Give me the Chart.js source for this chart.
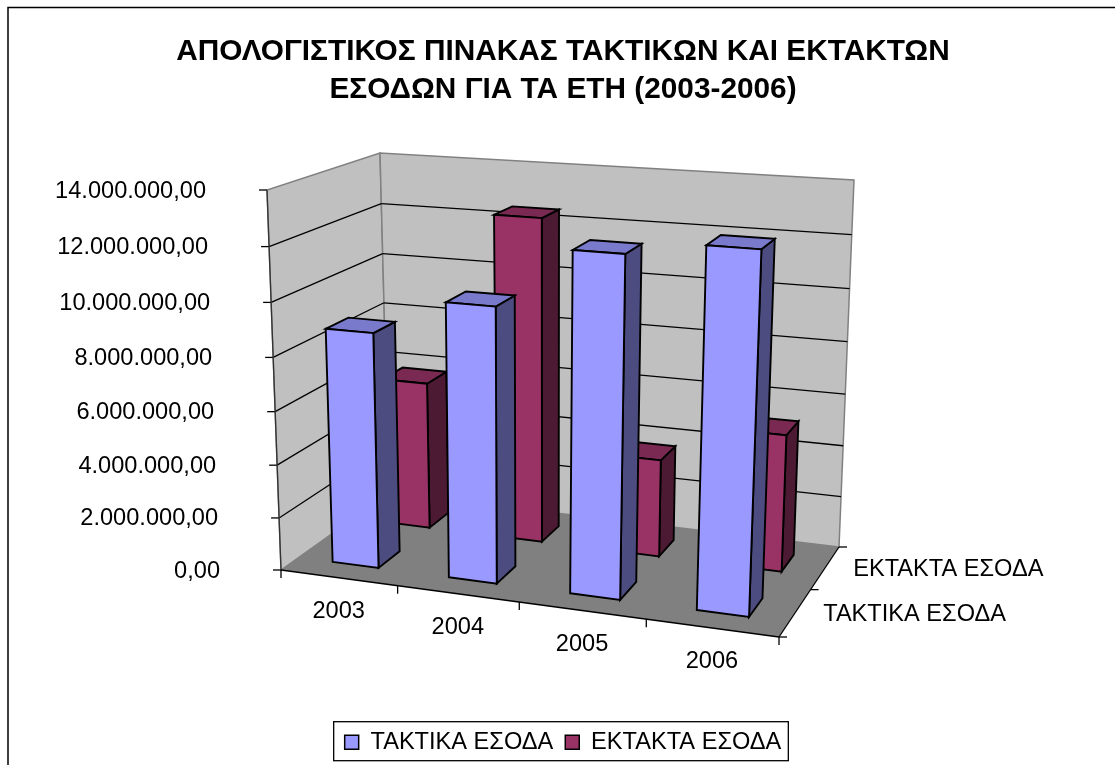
<!DOCTYPE html>
<html>
<head>
<meta charset="utf-8">
<script src="https://cdnjs.cloudflare.com/ajax/libs/Chart.js/4.4.1/chart.umd.js"></script>
<style>
  html, body { margin: 0; padding: 0; background: #fff; overflow: hidden; }
  canvas { display: block; }
</style>
</head>
<body>
<canvas id="chart" width="1115" height="765"></canvas>
<script>
const years = ["2003", "2004", "2005", "2006"];
const regular = [8850000, 10200000, 12400000, 12900000];
const extra = [5800000, 12500000, 3750000, 5200000];
const regularName = "ΤΑΚΤΙΚΑ ΕΣΟΔΑ";
const extraName = "ΕΚΤΑΚΤΑ ΕΣΟΔΑ";
const titleLines = ["ΑΠΟΛΟΓΙΣΤΙΚΟΣ ΠΙΝΑΚΑΣ ΤΑΚΤΙΚΩΝ ΚΑΙ ΕΚΤΑΚΤΩΝ", "ΕΣΟΔΩΝ ΓΙΑ ΤΑ ΕΤΗ (2003-2006)"];

const FONT = "'Liberation Sans', Arial, sans-serif";
const LABEL_SIZE = 23.6;

// corners of the 3d box on screen: first letter front/back, second left/right, third bottom/top
const box = {
  flb: [281, 570], flt: [267, 190],
  frb: [779, 637], frt: [795, 227],
  blb: [389, 493], blt: [380, 153],
  brb: [839, 547], brt: [854, 180]
};
// perspective squeeze along each axis
const warp = (t, k) => t / (t + k * (1 - t));
const lerp = (a, b, t) => [a[0] + (b[0] - a[0]) * t, a[1] + (b[1] - a[1]) * t];

function project(u, v, z) {
  u = warp(u, 1.09); v = warp(v, 1.05); z = warp(z, 0.9);
  const front = lerp(lerp(box.flb, box.frb, u), lerp(box.flt, box.frt, u), v);
  const back = lerp(lerp(box.blb, box.brb, u), lerp(box.blt, box.brt, u), v);
  return lerp(front, back, z);
}

function poly(ctx, pts, fill, stroke, width) {
  ctx.beginPath();
  pts.forEach((p, i) => i ? ctx.lineTo(p[0], p[1]) : ctx.moveTo(p[0], p[1]));
  ctx.closePath();
  if (fill) { ctx.fillStyle = fill; ctx.fill(); }
  if (stroke) { ctx.strokeStyle = stroke; ctx.lineWidth = width; ctx.stroke(); }
}

function line(ctx, a, b, color, width) {
  ctx.beginPath();
  ctx.moveTo(a[0], a[1]);
  ctx.lineTo(b[0], b[1]);
  ctx.strokeStyle = color;
  ctx.lineWidth = width;
  ctx.stroke();
}

function drawRoom(ctx, yScale) {
  poly(ctx, [project(0,0,0), project(0,1,0), project(0,1,1), project(0,0,1)], "#c0c0c0", "#808080", 1.5);
  poly(ctx, [project(0,0,1), project(0,1,1), project(1,1,1), project(1,0,1)], "#c0c0c0", "#808080", 1.5);
  poly(ctx, [project(0,0,0), project(1,0,0), project(1,0,1), project(0,0,1)], "#808080");

  // gridlines follow the value scale round both walls
  const h = yScale.bottom - yScale.top;
  yScale.ticks.forEach(t => {
    const v = (yScale.bottom - yScale.getPixelForValue(t.value)) / h;
    if (v > 0 && v < 1) {
      line(ctx, project(0,v,0), project(0,v,1), "#000", 1.3);
      line(ctx, project(0,v,1), project(1,v,1), "#000", 1.3);
    }
    const p = project(0, v, 0);
    line(ctx, [p[0] - 8, p[1]], p, "#000", 1.3);
    ctx.fillStyle = "#000";
    ctx.font = LABEL_SIZE + "px " + FONT;
    ctx.textAlign = "right";
    ctx.textBaseline = "middle";
    ctx.fillText(t.label, p[0] - 61, p[1] + 1);
  });
}

function drawAxes(ctx, chart) {
  line(ctx, project(0,0,0), project(0,1,0), "#333", 1.3);
  line(ctx, project(0,0,0), project(1,0,0), "#000", 1.3);
  line(ctx, project(1,0,0), project(1,0,1), "#000", 1.3);

  ctx.fillStyle = "#000";
  ctx.font = LABEL_SIZE + "px " + FONT;
  ctx.textBaseline = "middle";

  for (let i = 0; i <= years.length; i++) {
    const p = project(i / years.length, 0, 0);
    line(ctx, p, [p[0], p[1] + 8], "#000", 1.3);
  }
  ctx.textAlign = "center";
  years.forEach((y, i) => {
    const x = chart.scales.x;
    const u = (x.getPixelForValue(i) - x.left) / (x.right - x.left);
    const p = project(u, 0, 0);
    ctx.fillText(y, p[0], p[1] + 34);
  });

  [0, 0.5, 1].forEach(z => {
    const p = project(1, 0, z);
    line(ctx, p, [p[0] + 8, p[1]], "#000", 1.3);
  });
  ctx.textAlign = "left";
  chart.data.datasets.forEach((ds, d) => {
    const p = project(1, 0, d === 0 ? 0.25 : 0.75);
    ctx.fillText(ds.label, p[0] + 28, p[1] + 2);
  });
}

function drawBars(ctx, chart) {
  const { x: xs, y: ys } = chart.scales;
  // back row first so the front row covers it
  [1, 0].forEach(d => {
    const ds = chart.data.datasets[d];
    const z0 = d === 0 ? 0.15 : 0.65, z1 = z0 + 0.2;
    chart.getDatasetMeta(d).data.forEach(el => {
      const u0 = (el.x - el.width / 2 - xs.left) / (xs.right - xs.left);
      const u1 = (el.x + el.width / 2 - xs.left) / (xs.right - xs.left);
      const v = (ys.bottom - el.y) / (ys.bottom - ys.top);
      poly(ctx, [project(u1,0,z0), project(u1,v,z0), project(u1,v,z1), project(u1,0,z1)], ds.sideColor, "#000", 1.9);
      poly(ctx, [project(u0,v,z0), project(u1,v,z0), project(u1,v,z1), project(u0,v,z1)], ds.topColor, "#000", 1.9);
      poly(ctx, [project(u0,0,z0), project(u1,0,z0), project(u1,v,z0), project(u0,v,z0)], ds.backgroundColor, "#000", 1.9);
    });
  });
}

const room3d = {
  id: "room3d",
  beforeDraw(chart) {
    const ctx = chart.ctx;
    ctx.save();
    ctx.fillStyle = "#fff";
    ctx.fillRect(0, 0, chart.width, chart.height);
    // outer frame runs off the right and bottom of the picture
    ctx.strokeStyle = "#000";
    ctx.lineWidth = 1.5;
    ctx.strokeRect(8, 7.5, chart.width + 20, chart.height + 20);
    ctx.restore();
  },
  beforeDatasetsDraw(chart) {
    const ctx = chart.ctx;
    ctx.save();
    drawRoom(ctx, chart.scales.y);
    drawBars(ctx, chart);
    drawAxes(ctx, chart);
    ctx.restore();
    return false;
  },
  afterDraw(chart) {
    // frame hugs the legend items
    const ctx = chart.ctx, boxes = chart.legend.legendHitBoxes;
    const first = boxes[0], last = boxes[boxes.length - 1];
    const left = first.left - 11, right = last.left + last.width + 7;
    ctx.save();
    ctx.strokeStyle = "#000";
    ctx.lineWidth = 1.3;
    ctx.strokeRect(left, chart.legend.top + chart.legend.height / 2 - 19.5, right - left, 39);
    ctx.restore();
  }
};

new Chart("chart", {
  type: "bar",
  data: {
    labels: years,
    datasets: [
      { label: regularName, data: regular, backgroundColor: "#9999ff", topColor: "#7a7acc", sideColor: "#4c4c80", borderColor: "#000", borderWidth: 1.5 },
      { label: extraName, data: extra, backgroundColor: "#993366", topColor: "#7a2952", sideColor: "#4d1a33", borderColor: "#000", borderWidth: 1.5 }
    ]
  },
  options: {
    responsive: false,
    animation: false,
    layout: { padding: { left: 11, top: 33, bottom: 1 } },
    datasets: { bar: { grouped: false, categoryPercentage: 1, barPercentage: 0.4 } },
    scales: {
      x: { display: false },
      y: {
        display: false,
        min: 0,
        max: 14000000,
        ticks: {
          stepSize: 2000000,
          callback: v => v.toLocaleString("de-DE", { minimumFractionDigits: 2 })
        }
      }
    },
    plugins: {
      title: {
        display: true,
        text: titleLines,
        color: "#000",
        font: { family: FONT, size: 29.8, weight: "bold", lineHeight: 1.27 },
        padding: 0
      },
      legend: {
        position: "bottom",
        onClick: null,
        labels: {
          color: "#000",
          font: { family: FONT, size: LABEL_SIZE },
          boxWidth: 14,
          boxHeight: 14,
          padding: 12
        }
      },
      tooltip: { enabled: false }
    }
  },
  plugins: [room3d]
});
</script>
</body>
</html>
